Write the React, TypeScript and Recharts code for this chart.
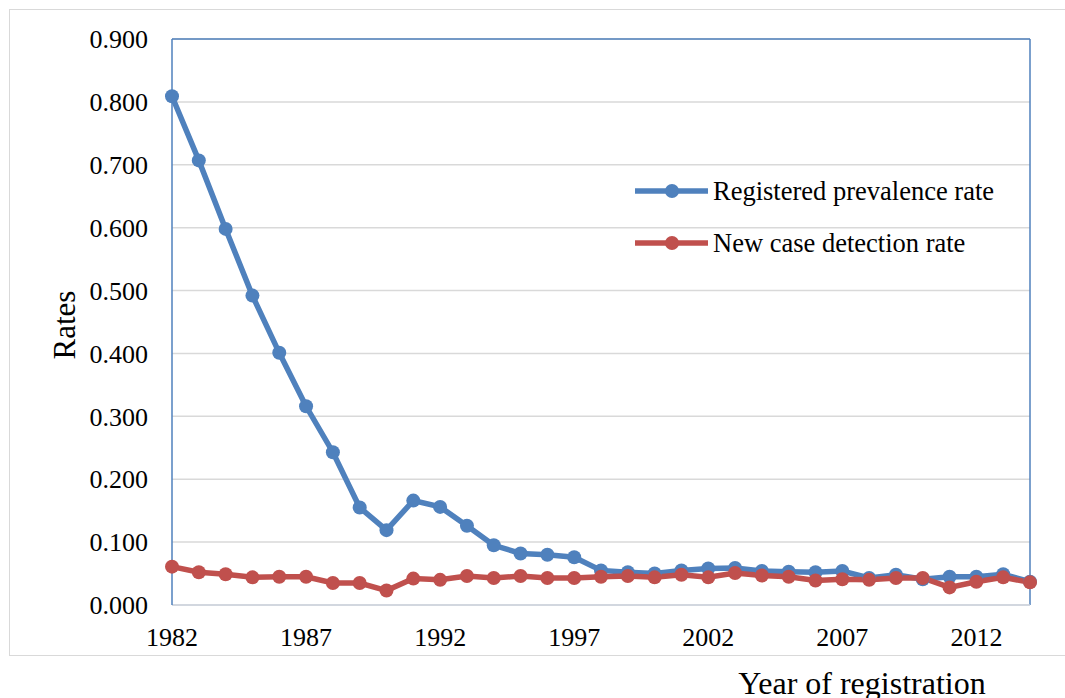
import React from 'react'
import {
  LineChart,
  Line,
  XAxis,
  YAxis,
  CartesianGrid,
  Legend,
  ReferenceLine,
} from 'recharts'

const years = [
  1982, 1983, 1984, 1985, 1986, 1987, 1988, 1989, 1990, 1991, 1992, 1993, 1994,
  1995, 1996, 1997, 1998, 1999, 2000, 2001, 2002, 2003, 2004, 2005, 2006, 2007,
  2008, 2009, 2010, 2011, 2012, 2013, 2014,
]

const prevalenceRate = [
  0.809, 0.707, 0.598, 0.492, 0.401, 0.316, 0.243, 0.155, 0.119, 0.166, 0.156, 0.126, 0.095,
  0.082, 0.080, 0.076, 0.055, 0.052, 0.050, 0.055, 0.058, 0.059, 0.054, 0.053, 0.052, 0.054,
  0.043, 0.048, 0.041, 0.045, 0.045, 0.049, 0.037,
]

const detectionRate = [
  0.061, 0.052, 0.049, 0.044, 0.045, 0.045, 0.035, 0.035, 0.023, 0.042, 0.040, 0.046, 0.043,
  0.046, 0.043, 0.043, 0.045, 0.046, 0.044, 0.048, 0.044, 0.051, 0.047, 0.045, 0.039, 0.041,
  0.040, 0.043, 0.043, 0.028, 0.037, 0.044, 0.036,
]

const xTicks = [1982, 1987, 1992, 1997, 2002, 2007, 2012]
const yTicks = [0, 0.1, 0.2, 0.3, 0.4, 0.5, 0.6, 0.7, 0.8, 0.9]

const seriesNames = ['Registered prevalence rate', 'New case detection rate']

const BLUE = '#4F81BD'
const RED = '#C0504D'
const FONT = "'Liberation Serif', 'Times New Roman', serif"

const data = years.map((year, i) => ({
  year,
  prevalence: prevalenceRate[i],
  detection: detectionRate[i],
}))

// legend drawn inside the plot, like the Excel original
function LegendBox() {
  const rows = [
    { name: seriesNames[0], color: BLUE },
    { name: seriesNames[1], color: RED },
  ]
  return (
    <div style={{ fontFamily: FONT, fontSize: 26.5, color: '#000' }}>
      {rows.map((row) => (
        <div key={row.name} style={{ display: 'flex', alignItems: 'center', height: 52 }}>
          <svg width={73} height={20} style={{ marginRight: 5 }}>
            <line x1={0} y1={10} x2={73} y2={10} stroke={row.color} strokeWidth={5.5} />
            <circle cx={37} cy={10} r={7} fill={row.color} />
          </svg>
          <span style={{ lineHeight: 1 }}>{row.name}</span>
        </div>
      ))}
    </div>
  )
}

export default function App() {
  const tickStyle = { fontSize: 26, fill: '#000', fontFamily: 'Liberation Serif' }

  return (
    <div
      style={{
        position: 'absolute',
        left: 0,
        top: 0,
        width: 1065,
        height: 698,
        background: '#fff',
        fontFamily: FONT,
      }}
    >
      <style>{`.recharts-wrapper text, .recharts-wrapper tspan { font-family: ${FONT} !important; }`}</style>
      {/* outer chart frame */}
      <div
        style={{
          position: 'absolute',
          left: 9,
          top: 9,
          width: 1070,
          height: 645,
          border: '1.5px solid #d9d9d9',
        }}
      />
      <div style={{ position: 'absolute', left: 0, top: 0 }}>
        <LineChart
          width={1065}
          height={698}
          data={data}
          margin={{ top: 39, right: 35, bottom: 53, left: 72 }}
        >
          <CartesianGrid vertical={false} stroke="#d9d9d9" strokeWidth={1.5} />
          <XAxis
            dataKey="year"
            type="number"
            domain={[1982, 2014]}
            ticks={xTicks}
            height={40}
            tickLine={false}
            tickSize={0}
            tickMargin={23}
            axisLine={{ stroke: '#ccd3de', strokeWidth: 1.5 }}
            tick={tickStyle}
          />
          <YAxis
            type="number"
            domain={[0, 0.9]}
            ticks={yTicks}
            width={100}
            tickLine={false}
            tickSize={0}
            tickMargin={24}
            axisLine={{ stroke: BLUE, strokeWidth: 1.5 }}
            tick={tickStyle}
            tickFormatter={(v: number) => v.toFixed(3)}
          />
          <ReferenceLine y={0.9} stroke={BLUE} strokeWidth={1.5} />
          <ReferenceLine x={2014} stroke={BLUE} strokeWidth={1.5} />
          <Legend
            layout="horizontal"
            verticalAlign="middle"
            align="center"
            wrapperStyle={{ left: 635, top: 165, width: 420 }}
            content={() => <LegendBox />}
          />
          <Line
            dataKey="prevalence"
            name={seriesNames[0]}
            stroke={BLUE}
            strokeWidth={5.5}
            dot={{ r: 7, fill: BLUE, stroke: BLUE, strokeWidth: 0 }}
            isAnimationActive={false}
          />
          <Line
            dataKey="detection"
            name={seriesNames[1]}
            stroke={RED}
            strokeWidth={5.5}
            dot={{ r: 7, fill: RED, stroke: RED, strokeWidth: 0 }}
            isAnimationActive={false}
          />
        </LineChart>
      </div>
      {/* axis titles */}
      <div
        style={{
          position: 'absolute',
          left: 65,
          top: 325,
          transform: 'translate(-50%, -50%) rotate(-90deg)',
          fontSize: 31,
          whiteSpace: 'nowrap',
          color: '#000',
        }}
      >
        Rates
      </div>
      <div
        style={{
          position: 'absolute',
          left: 862,
          top: 683,
          transform: 'translate(-50%, -50%)',
          fontSize: 32,
          whiteSpace: 'nowrap',
          color: '#000',
        }}
      >
        Year of registration
      </div>
    </div>
  )
}
